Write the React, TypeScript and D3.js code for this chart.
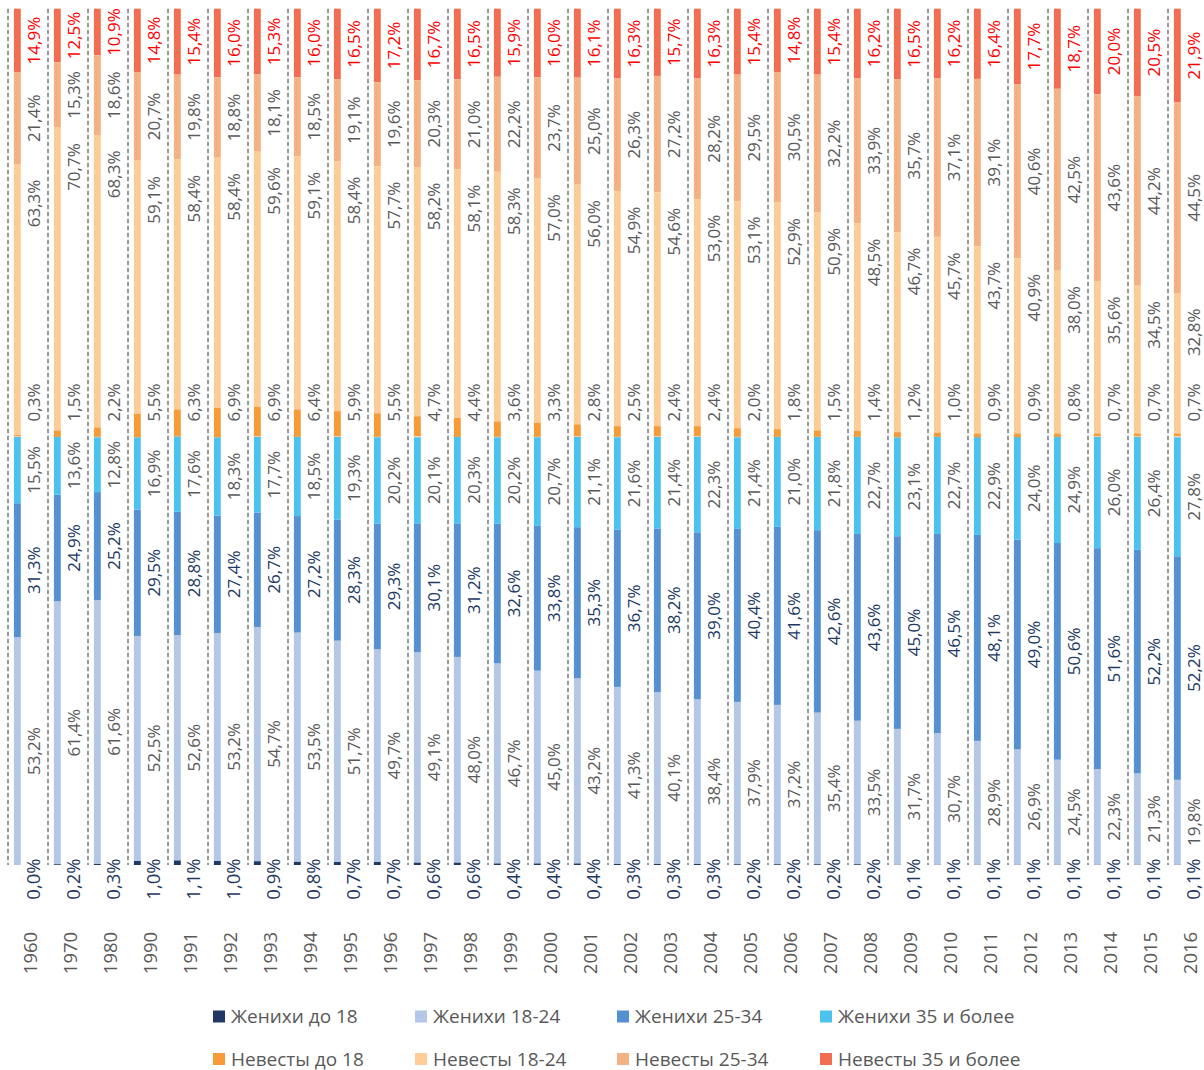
import React from "react";
import * as d3 from "d3";

const years = ["1960","1970","1980","1990","1991","1992","1993","1994","1995","1996","1997","1998","1999","2000","2001","2002","2003","2004","2005","2006","2007","2008","2009","2010","2011","2012","2013","2014","2015","2016"];

const groomsU18 = [0.0,0.2,0.3,1.0,1.1,1.0,0.9,0.8,0.7,0.7,0.6,0.6,0.4,0.4,0.4,0.3,0.3,0.3,0.2,0.2,0.2,0.2,0.1,0.1,0.1,0.1,0.1,0.1,0.1,0.1];
const grooms18_24 = [53.2,61.4,61.6,52.5,52.6,53.2,54.7,53.5,51.7,49.7,49.1,48.0,46.7,45.0,43.2,41.3,40.1,38.4,37.9,37.2,35.4,33.5,31.7,30.7,28.9,26.9,24.5,22.3,21.3,19.8];
const grooms25_34 = [31.3,24.9,25.2,29.5,28.8,27.4,26.7,27.2,28.3,29.3,30.1,31.2,32.6,33.8,35.3,36.7,38.2,39.0,40.4,41.6,42.6,43.6,45.0,46.5,48.1,49.0,50.6,51.6,52.2,52.2];
const grooms35 = [15.5,13.6,12.8,16.9,17.6,18.3,17.7,18.5,19.3,20.2,20.1,20.3,20.2,20.7,21.1,21.6,21.4,22.3,21.4,21.0,21.8,22.7,23.1,22.7,22.9,24.0,24.9,26.0,26.4,27.8];

const bridesU18 = [0.3,1.5,2.2,5.5,6.3,6.9,6.9,6.4,5.9,5.5,4.7,4.4,3.6,3.3,2.8,2.5,2.4,2.4,2.0,1.8,1.5,1.4,1.2,1.0,0.9,0.9,0.8,0.7,0.7,0.7];
const brides18_24 = [63.3,70.7,68.3,59.1,58.4,58.4,59.6,59.1,58.4,57.7,58.2,58.1,58.3,57.0,56.0,54.9,54.6,53.0,53.1,52.9,50.9,48.5,46.7,45.7,43.7,40.9,38.0,35.6,34.5,32.8];
const brides25_34 = [21.4,15.3,18.6,20.7,19.8,18.8,18.1,18.5,19.1,19.6,20.3,21.0,22.2,23.7,25.0,26.3,27.2,28.2,29.5,30.5,32.2,33.9,35.7,37.1,39.1,40.6,42.5,43.6,44.2,44.5];
const brides35 = [14.9,12.5,10.9,14.8,15.4,16.0,15.3,16.0,16.5,17.2,16.7,16.5,15.9,16.0,16.1,16.3,15.7,16.3,15.4,14.8,15.4,16.2,16.5,16.2,16.4,17.7,18.7,20.0,20.5,21.9];

const groomSeries = [
  { name: "Женихи до 18", values: groomsU18, color: "#1f3864", label: "#1f3864" },
  { name: "Женихи 18-24", values: grooms18_24, color: "#b4c7e7", label: "#595959" },
  { name: "Женихи 25-34", values: grooms25_34, color: "#5590d0", label: "#203864" },
  { name: "Женихи 35 и более", values: grooms35, color: "#4cc2ec", label: "#595959" },
];
const brideSeries = [
  { name: "Невесты до 18", values: bridesU18, color: "#f79a38", label: "#595959" },
  { name: "Невесты 18-24", values: brides18_24, color: "#fecc96", label: "#595959" },
  { name: "Невесты 25-34", values: brides25_34, color: "#f4b183", label: "#595959" },
  { name: "Невесты 35 и более", values: brides35, color: "#f26e52", label: "#ff0000" },
];

const FONT = "'Open Sans', 'Noto Sans', sans-serif";
const fmt = (v: number) => v.toFixed(1).replace(".", ",") + "%";

export default function App() {
  const W = 1204, H = 1070;
  const x = d3.scaleBand<string>().domain(years).range([8, 8 + 40 * years.length]).padding(0);
  const y = d3.scaleLinear().domain([0, 200]).range([865, 8.7]);

  const barOff = 5.9, barW = 6.9, lblOff = 31.8;

  const marks: React.ReactNode[] = [];
  years.forEach((yr, i) => {
    const x0 = x(yr)!;
    marks.push(
      <line key={"d" + i} x1={x0} x2={x0} y1={y(200)} y2={y(0)} stroke="#7a7a7a" strokeWidth={1.5} strokeDasharray="4.5,2.5" />
    );
    let acc = 0;
    groomSeries.forEach((s, j) => {
      const v = s.values[i];
      const yTop = y(acc + v), yBot = y(acc);
      marks.push(<rect key={`g${i}-${j}`} x={x0 + barOff} y={yTop} width={barW} height={Math.max(0, yBot - yTop)} fill={s.color} />);
      let ly: number, fs = 17;
      if (j === 0) { ly = 879; fs = 18.5; }
      else ly = (yTop + yBot) / 2;
      marks.push(
        <text key={`gl${i}-${j}`} transform={`translate(${x0 + lblOff},${ly}) rotate(-90)`} textAnchor="middle" fontSize={fs} fill={s.label} fontFamily={FONT}>{fmt(v)}</text>
      );
      acc += v;
    });
    let top = 200;
    [3, 2, 1, 0].forEach((j) => {
      const s = brideSeries[j];
      const v = s.values[i];
      const yTop = y(top), yBot = y(top - v);
      marks.push(<rect key={`b${i}-${j}`} x={x0 + barOff} y={yTop} width={barW} height={Math.max(0, yBot - yTop)} fill={s.color} />);
      let ly: number, anchor = "middle";
      if (j === 0) { ly = 402.5; }
      else if (j === 1) { ly = yTop + 15.5; anchor = "end"; }
      else ly = (yTop + yBot) / 2;
      marks.push(
        <text key={`bl${i}-${j}`} transform={`translate(${x0 + lblOff},${ly}) rotate(-90)`} textAnchor={anchor} fontSize={17} fill={s.label} fontFamily={FONT}>{fmt(v)}</text>
      );
      top -= v;
    });
    marks.push(
      <text key={"y" + i} transform={`translate(${x0 + 28.8},${953}) rotate(-90)`} textAnchor="middle" fontSize={18.5} fill="#595959" fontFamily={FONT}>{yr}</text>
    );
  });

  const legendX = [213, 415, 617, 820];
  const legendRows = [groomSeries, brideSeries];
  const legendBase = [1023, 1065.5];

  return (
    <svg width={W} height={H} style={{ position: "absolute", left: 0, top: 0, display: "block" }} xmlns="http://www.w3.org/2000/svg">
      <rect x={0} y={0} width={W} height={H} fill="#ffffff" />
      {marks}
      {legendRows.map((row, r) =>
        row.map((s, c) => (
          <g key={`lg${r}-${c}`}>
            <rect x={legendX[c]} y={legendBase[r] - 12.5} width={12} height={12} fill={s.color} />
            <text x={legendX[c] + 18} y={legendBase[r]} fontSize={19} fill="#595959" fontFamily={FONT}>{s.name}</text>
          </g>
        ))
      )}
    </svg>
  );
}
